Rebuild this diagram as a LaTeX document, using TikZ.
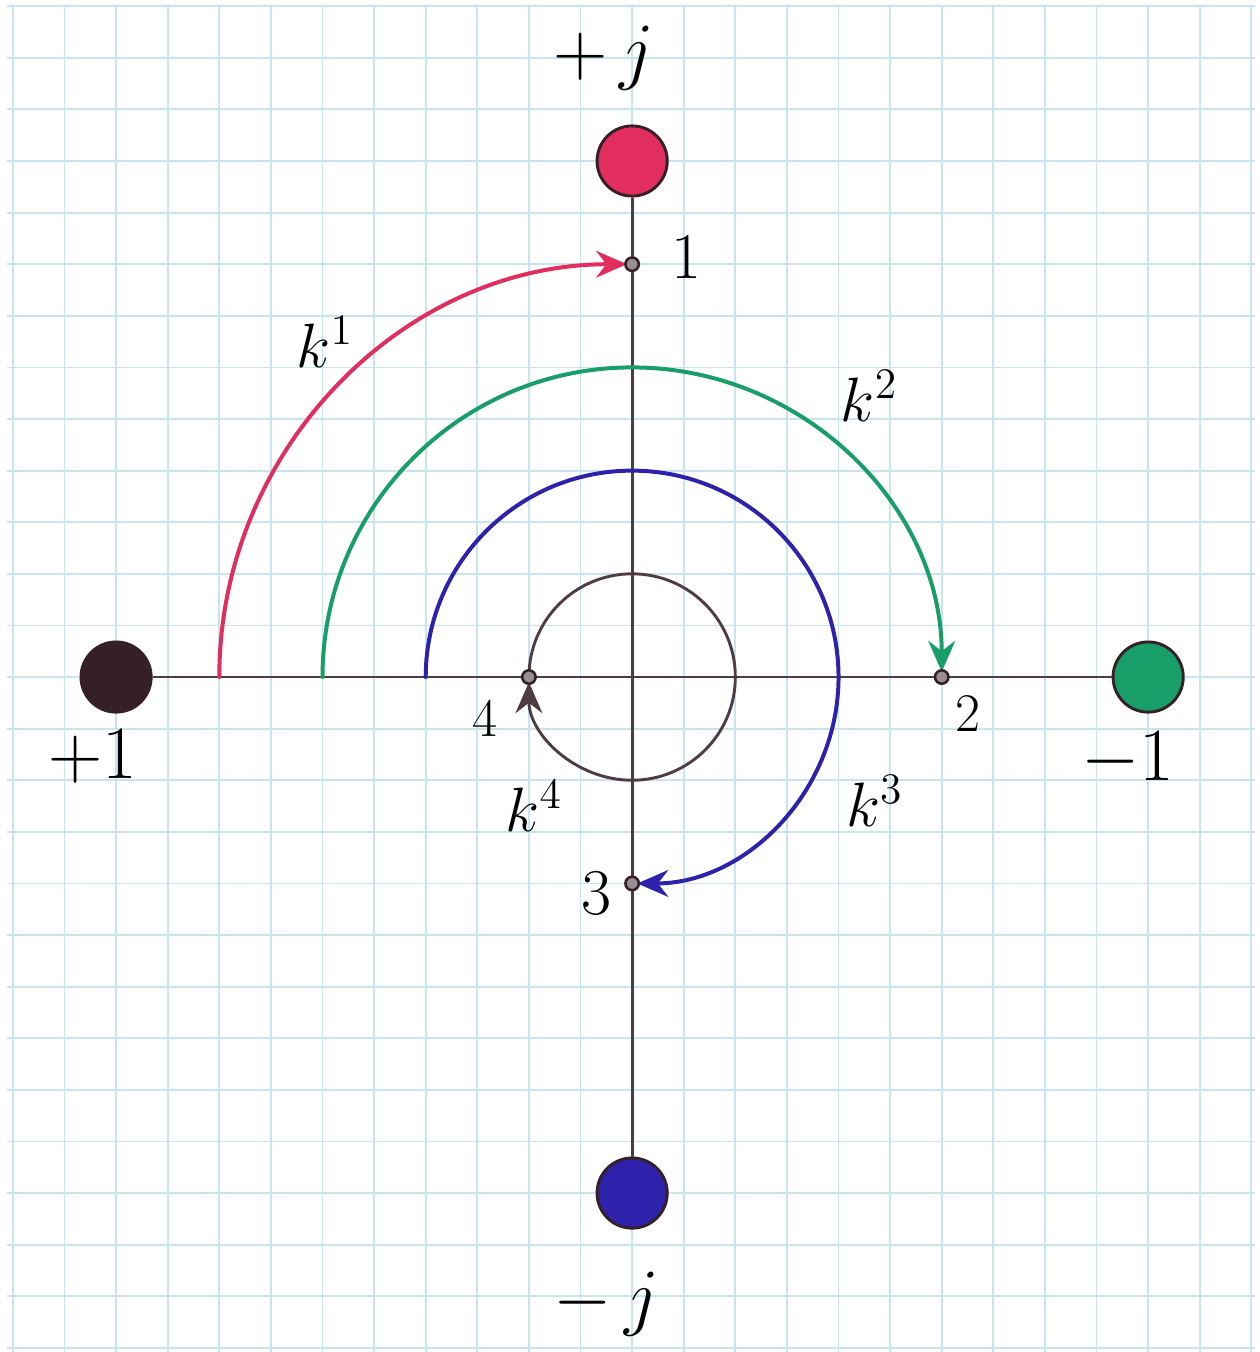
\documentclass[tikz,border=0pt]{standalone}
\usepackage{tikz}
\usetikzlibrary{arrows.meta}
\definecolor{gridblue}{RGB}{200,228,240}
\definecolor{axisline}{RGB}{78,60,66}
\definecolor{inkdark}{RGB}{52,32,38}
\definecolor{inkred}{RGB}{226,46,94}
\definecolor{inkgreen}{RGB}{24,158,104}
\definecolor{inkblue}{RGB}{46,34,172}
\tikzset{
  rootdot/.style={
    circle, draw=inkdark, line width=0.8pt,
    minimum size=6.8mm, inner sep=0pt
  },
  stepdot/.style={
    circle, draw=inkdark, fill=inkdark!50, line width=0.7pt,
    minimum size=1.3mm, inner sep=0pt
  },
  axislabel/.style={font=\fontsize{20}{24}\selectfont, inner sep=1pt},
  steplabel/.style={font=\fontsize{18}{21}\selectfont, inner sep=1pt},
  steplabel-small/.style={steplabel, font=\fontsize{15}{18}\selectfont},
  powlabel/.style={font=\fontsize{17}{20}\selectfont, inner sep=1pt},
  axisrule/.style={draw=axisline, line width=0.8pt},
  turnarrow/.style={
    line width=1.1pt, line cap=round, shorten >=0.5mm,
    -{Stealth[length=3mm, width=2.6mm, inset=1mm]}
  }
}

\begin{document}
\begin{tikzpicture}[x=5mm, y=5mm]
  % paper
  \fill[white] (-12.25,-13.08) rectangle (12.15,13.12);
  \useasboundingbox (-12.25,-13.08) rectangle (12.15,13.12);
  \begin{scope}
    \clip (-12.11,-13.08) rectangle (12.07,13.02);
    \draw[gridblue, line width=0.5pt, step=5mm] (-13,-14) grid (13,14);
  \end{scope}

  % fourth roots of unity
  \node[rootdot, fill=inkdark] (pone) at (-10,0) {};
  \node[rootdot, fill=inkgreen] (mone) at (10,0) {};
  \node[rootdot, fill=inkred] (pj) at (0,10) {};
  \node[rootdot, fill=inkblue] (mj) at (0,-10) {};

  \draw[axisrule] (pone) -- (mone);
  \draw[axisrule] (pj) -- (mj);

  % start points of the turns
  \coordinate (a1) at (-8,0);
  \coordinate (a2) at (-6,0);
  \coordinate (a3) at (-4,0);

  % turns k^1 .. k^4
  \draw[turnarrow, inkred] (a1) arc[start angle=180, end angle=90, radius=8];
  \draw[turnarrow, inkgreen] (a2) arc[start angle=180, end angle=0, radius=6];
  \draw[turnarrow, inkblue] (a3) arc[start angle=180, end angle=-90, radius=4];
  \draw[turnarrow, axisline, line width=0.8pt] (-2,0) arc[start angle=180, end angle=-180, radius=2];

  \node[stepdot] (s1) at (0,8) {};
  \node[stepdot] (s2) at (6,0) {};
  \node[stepdot] (s3) at (0,-4) {};
  \node[stepdot] (s4) at (-2,0) {};

  % labels
  \node[axislabel] (lpj) at (-0.55,12) {$+\,j$};
  \node[axislabel] (lmj) at (-0.5,-12.15) {$-\,j$};
  \node[axislabel] (lpone) at (-10.45,-1.55) {$+1$};
  \node[axislabel] (lmone) at (9.6,-1.6) {$-1$};

  \node[steplabel] (n1) at (1.05,8.15) {1};
  \node[steplabel-small] (n2) at (6.5,-0.7) {2};
  \node[steplabel] (n3) at (-0.7,-4.2) {3};
  \node[steplabel-small] (n4) at (-2.85,-0.8) {4};

  \node[powlabel] (k1) at (-5.95,6.5) {$k^{1}$};
  \node[powlabel] (k2) at (4.6,5.45) {$k^{2}$};
  \node[powlabel] (k3) at (4.7,-2.4) {$k^{3}$};
  \node[powlabel] (k4) at (-1.9,-2.5) {$k^{4}$};
\end{tikzpicture}
\end{document}
